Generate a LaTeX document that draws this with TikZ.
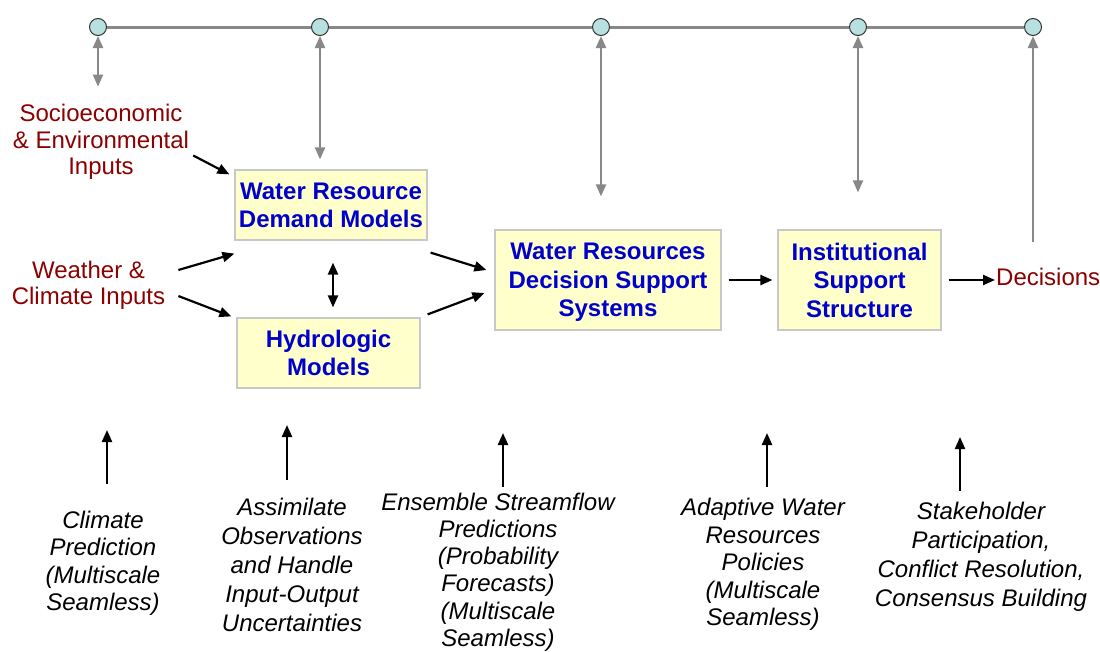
\documentclass[tikz,border=0pt]{standalone}
\usepackage{fontspec}
\setmainfont{Liberation Sans}
\usetikzlibrary{arrows.meta,calc,positioning}
\definecolor{boxfill}{HTML}{FFFFCC}
\definecolor{boxline}{HTML}{C8C8C8}
\definecolor{boxtext}{HTML}{0000CC}
\definecolor{inred}{HTML}{8B0000}
\definecolor{dotfill}{HTML}{B8E0E0}
\definecolor{lgray}{HTML}{888888}

\begin{document}
\begin{tikzpicture}[x=1pt,y=-1pt,
  box/.style={draw=boxline,line width=1.2pt,fill=boxfill,text=boxtext,
    font=\fontsize{24}{28.5}\selectfont\bfseries,align=center,inner sep=0pt,text depth=-4pt},
  inlbl/.style={text=inred,font=\fontsize{24}{26.5}\selectfont,align=center,inner sep=0pt},
  note/.style={font=\fontsize{24}{27.5}\selectfont\itshape,align=center,inner sep=0pt},
  dot/.style={circle,draw=black!80,line width=1pt,fill=dotfill,minimum size=17pt,inner sep=0pt},
  arr/.style={line width=2.2pt,-{Triangle[length=12pt,width=10pt]}},
  darr/.style={line width=2.2pt,{Triangle[length=12pt,width=10pt]}-{Triangle[length=12pt,width=10pt]}},
  garr/.style={lgray,line width=2.2pt,{Triangle[length=12pt,width=10pt]}-{Triangle[length=12pt,width=10pt]}}]
\useasboundingbox (0,0) rectangle (1100,651);

% boxes
\node[box,minimum width=192pt,minimum height=70pt] (demand) at (331,205) {Water Resource\\Demand Models};
\node[box,minimum width=183pt,minimum height=70pt] (hydro) at (328.5,353) {Hydrologic\\Models};
\node[box,minimum width=226pt,minimum height=100pt] (dss) at (608,280) {Water Resources\\Decision Support\\Systems};
\node[box,minimum width=163pt,minimum height=100pt] (inst) at (859.5,280) {Institutional\\Support\\Structure};

% inputs and output
\node[inlbl] (socio) at (101,142) {Socioeconomic\\\& Environmental\\Inputs};
\node[inlbl] (weather) at (88.5,285.5) {Weather \&\\Climate Inputs};
\node[inlbl,anchor=west] (decis) at (996,277) {Decisions};

% top line
\foreach \n/\x in {1/98,2/320,3/601,4/858,5/1033}
  \node[dot] (c\n) at (\x,27) {};
\draw[lgray,line width=3pt] (c1) -- (c2) -- (c3) -- (c4) -- (c5);
\draw[garr,shorten >=17.5pt] (c1) -- (c1 |- socio.north);
\draw[garr,shorten >=10pt] (c2) -- (c2 |- demand.north);
\draw[garr,shorten >=33pt] (c3) -- (c3 |- dss.north);
\draw[garr,shorten >=37pt] (c4) -- (c4 |- inst.north);
\draw[lgray,line width=2.2pt,-{Triangle[length=12pt,width=10pt]},shorten <=26pt] (c5 |- decis.north) -- (c5);

% flow
\draw[arr] ($(socio.east)+(4,13.5)$) -- ($(demand.north west)+(-5,5)$);
\draw[arr] ($(weather.east)+(13,-15.5)$) -- ($(demand.south west)+(0,13)$);
\draw[arr] ($(weather.east)+(13,10.5)$) -- ($(hydro.north west)+(-5,-1)$);
\draw[darr,shorten <=22pt,shorten >=10pt] ([xshift=2pt]demand.south) -- ([xshift=2pt]demand.south |- hydro.north);
\draw[arr] ($(demand.south east)+(3,12)$) -- ($(dss.west)+(-8,-10)$);
\draw[arr] ($(hydro.north east)+(7,-3)$) -- ($(dss.west)+(-10,13)$);
\draw[arr,shorten <=7pt,shorten >=5pt] (dss.east) -- (inst.west);
\draw[arr,shorten <=7pt,shorten >=1pt] (inst.east) -- (inst.east -| decis.west);

% bottom notes
\node[note] (clim) at (103,563.5) {Climate\\Prediction\\(Multiscale\\Seamless)};
\node[note,font=\fontsize{24}{29}\selectfont\itshape] (asm) at (292,565) {Assimilate\\Observations\\and Handle\\Input-Output\\Uncertainties};
\node[note,font=\fontsize{24}{27.2}\selectfont\itshape] (ens) at (498,572) {Ensemble Streamflow\\Predictions\\(Probability\\Forecasts)\\(Multiscale\\Seamless)};
\node[note] (adp) at (763,564.5) {Adaptive Water\\Resources\\Policies\\(Multiscale\\Seamless)};
\node[note,font=\fontsize{24}{29}\selectfont\itshape] (stk) at (981,556.5) {Stakeholder\\Participation,\\Conflict Resolution,\\Consensus Building};

\coordinate (p1) at (107,430);
\coordinate (p2) at (287,425);
\coordinate (p3) at (503,433);
\coordinate (p4) at (767,433);
\coordinate (p5) at (960,437);
\draw[arr,shorten <=27pt] (p1 |- clim.north) -- (p1);
\draw[arr,shorten <=18pt] (p2 |- asm.north) -- (p2);
\draw[arr,shorten <=5.5pt] (p3 |- ens.north) -- (p3);
\draw[arr,shorten <=11pt] (p4 |- adp.north) -- (p4);
\draw[arr,shorten <=11pt] (p5 |- stk.north) -- (p5);
\end{tikzpicture}
\end{document}
